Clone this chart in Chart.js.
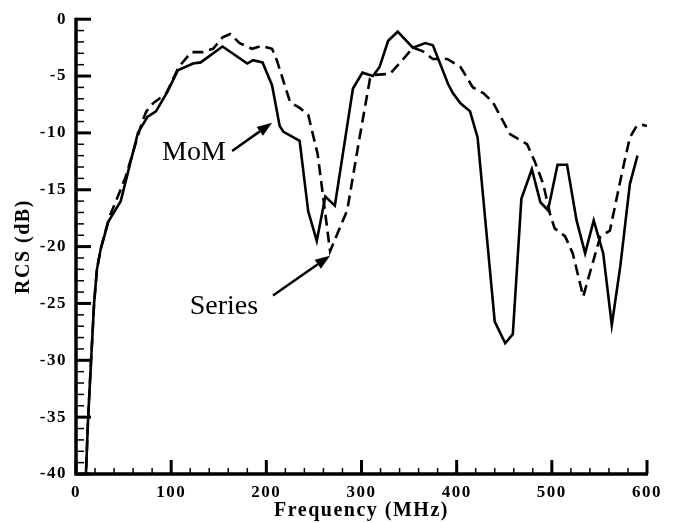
<!DOCTYPE html>
<html>
<head>
<meta charset="utf-8">
<script src="https://cdn.jsdelivr.net/npm/chart.js@4.4.1/dist/chart.umd.min.js"></script>
<style>
  html, body { margin: 0; padding: 0; background: #fff; }
  canvas { display: block; }
</style>
</head>
<body>
<canvas id="rcsChart" width="674" height="523"></canvas>
<script>
// values (MHz / dB)
const momFreq = [10, 12.6, 15.8, 19, 22, 26, 34, 47, 65, 75, 84, 96, 107, 123, 131, 154, 180, 186, 196, 206, 214, 218, 235, 244, 253, 262, 272, 291, 301, 312, 319, 328, 338, 354, 367, 375, 391, 396, 404, 414, 422, 440, 451, 459, 468, 479, 488, 496, 506, 516, 526, 535, 544, 554, 563, 572, 582, 590];
const momRcs = [-41, -35.3, -30.1, -25, -22, -20.2, -17.8, -16, -10, -8.6, -8.1, -6.4, -4.5, -3.9, -3.8, -2.4, -3.9, -3.6, -3.8, -5.8, -9.4, -9.9, -10.7, -16.9, -19.5, -15.6, -16.4, -6.1, -4.7, -5.0, -4.2, -1.9, -1.1, -2.5, -2.1, -2.3, -5.7, -6.5, -7.4, -8.1, -10.4, -26.6, -28.5, -27.7, -15.8, -13.2, -16.1, -16.8, -12.8, -12.8, -17.7, -20.6, -17.7, -20.6, -26.9, -21.7, -14.5, -12.0];

const seriesFreq = [10, 12.6, 15.8, 19, 22, 26, 35, 42, 52, 70, 74, 81, 95, 108, 121, 133, 144, 154, 162, 172, 185, 195, 206, 211, 225, 235, 244, 254, 267, 285, 298, 309, 314, 330, 344, 354, 364, 375, 390, 404, 417, 428, 438, 456, 474, 482, 491, 498, 503, 514, 522, 533, 540, 551, 561, 574, 582, 589, 596, 600];
const seriesRcs = [-41, -35.3, -30.1, -25, -22, -20.2, -17.4, -16, -13.9, -8.9, -8.1, -7.4, -6.5, -4.2, -2.9, -2.9, -2.6, -1.6, -1.3, -2.1, -2.6, -2.35, -2.6, -3.6, -7.3, -7.8, -8.4, -11.9, -20.4, -16.8, -10.4, -5.2, -4.9, -4.8, -3.5, -2.5, -2.8, -3.5, -3.5, -4.2, -6.0, -6.5, -7.3, -10.1, -11.0, -12.5, -14.5, -17.1, -18.4, -19.1, -20.6, -24.4, -22.3, -19.1, -18.6, -13.4, -10.4, -9.4, -9.3, -9.4];

const freqTicks = [0, 100, 200, 300, 400, 500, 600];
const rcsTicks = [0, -5, -10, -15, -20, -25, -30, -35, -40];

const serif = "'Liberation Serif', 'Times New Roman', serif";

// text labels with arrows, in data coordinates
const notes = [
  { text: 'MoM', at: [124, -11.7], from: [164, -11.6], to: [206, -9.1] },
  { text: 'Series', at: [155.5, -25.3], from: [207, -24.3], to: [267, -20.8] }
];

const toPoints = (xs, ys) => xs.map((x, i) => ({ x, y: ys[i] }));

// axes with inward major/minor ticks, plus the arrows
const framePlugin = {
  id: 'frame',
  beforeDraw(chart) {
    chart.ctx.letterSpacing = '1.5px';
  },
  afterDraw(chart) {
    const { ctx, chartArea: a, scales: { x, y } } = chart;
    ctx.save();
    ctx.letterSpacing = '0px';
    ctx.strokeStyle = '#000';
    ctx.fillStyle = '#000';

    for (let v = -40; v <= 0; v += 1) {
      const py = y.getPixelForValue(v);
      const major = v % 5 === 0;
      ctx.lineWidth = major ? 3 : 1.5;
      ctx.beginPath();
      ctx.moveTo(a.left, py);
      ctx.lineTo(a.left + (major ? 15 : 8), py);
      ctx.stroke();
    }
    for (let v = 0; v <= 600; v += 20) {
      const px = x.getPixelForValue(v);
      const major = v % 100 === 0;
      ctx.lineWidth = major ? 3 : 1.5;
      ctx.beginPath();
      ctx.moveTo(px, a.bottom);
      ctx.lineTo(px, a.bottom - (major ? 14 : 6));
      ctx.stroke();
    }

    ctx.lineWidth = 3.5;
    ctx.beginPath();
    ctx.moveTo(a.left, a.top - 1.5);
    ctx.lineTo(a.left, a.bottom);
    ctx.lineTo(a.right + 1, a.bottom);
    ctx.stroke();

    ctx.font = '28px ' + serif;
    ctx.textAlign = 'center';
    ctx.textBaseline = 'middle';
    notes.forEach(n => {
      ctx.fillText(n.text, x.getPixelForValue(n.at[0]), y.getPixelForValue(n.at[1]));
      const x0 = x.getPixelForValue(n.from[0]), y0 = y.getPixelForValue(n.from[1]);
      const x1 = x.getPixelForValue(n.to[0]), y1 = y.getPixelForValue(n.to[1]);
      const ang = Math.atan2(y1 - y0, x1 - x0);
      const head = 15, half = 5.5;
      const bx = x1 - head * Math.cos(ang), by = y1 - head * Math.sin(ang);
      ctx.lineWidth = 2.5;
      ctx.beginPath();
      ctx.moveTo(x0, y0);
      ctx.lineTo(bx, by);
      ctx.stroke();
      ctx.beginPath();
      ctx.moveTo(x1, y1);
      ctx.lineTo(bx + half * Math.sin(ang), by - half * Math.cos(ang));
      ctx.lineTo(bx - half * Math.sin(ang), by + half * Math.cos(ang));
      ctx.closePath();
      ctx.fill();
    });
    ctx.restore();
  }
};

new Chart(document.getElementById('rcsChart').getContext('2d'), {
  type: 'line',
  data: {
    datasets: [
      {
        label: 'MoM',
        data: toPoints(momFreq, momRcs),
        borderColor: '#000',
        borderWidth: 2.6,
        pointRadius: 0,
        tension: 0
      },
      {
        label: 'Series',
        data: toPoints(seriesFreq, seriesRcs),
        borderColor: '#000',
        borderWidth: 2.6,
        borderDash: [11, 6],
        pointRadius: 0,
        tension: 0
      }
    ]
  },
  options: {
    responsive: false,
    animation: false,
    layout: { padding: { top: 13, right: 27, left: 0, bottom: 0 } },
    plugins: {
      legend: { display: false },
      tooltip: { enabled: false }
    },
    scales: {
      x: {
        type: 'linear',
        min: 0,
        max: 600,
        afterBuildTicks: s => { s.ticks = freqTicks.map(value => ({ value })); },
        afterFit: s => { s.height = 49; },
        grid: { display: false, drawTicks: false },
        border: { display: false },
        ticks: {
          color: '#000',
          padding: 8,
          maxRotation: 0,
          font: { family: serif, size: 17, weight: 'bold' }
        },
        title: {
          display: true,
          text: 'Frequency (MHz)',
          color: '#000',
          padding: { top: 0, bottom: 0 },
          font: { family: serif, size: 20, weight: 'bold' }
        }
      },
      y: {
        min: -40,
        max: 0,
        afterBuildTicks: s => { s.ticks = rcsTicks.map(value => ({ value })); },
        afterFit: s => { s.width = 76; },
        grid: { display: false, drawTicks: false },
        border: { display: false },
        ticks: {
          color: '#000',
          padding: 9,
          font: { family: serif, size: 17, weight: 'bold' }
        },
        title: {
          display: true,
          text: 'RCS (dB)',
          color: '#000',
          padding: { top: 12, bottom: 0 },
          font: { family: serif, size: 20, weight: 'bold' }
        }
      }
    }
  },
  plugins: [framePlugin]
});
</script>
</body>
</html>
